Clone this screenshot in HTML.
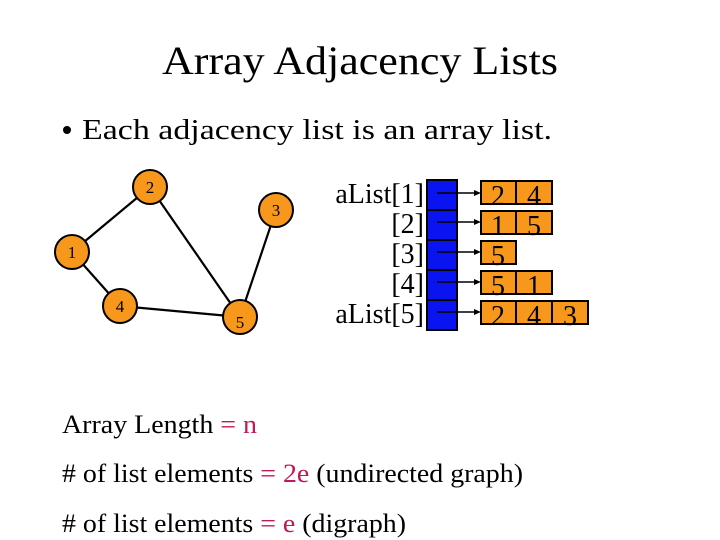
<!DOCTYPE html>
<html><head><style>body{margin:0;background:#fff}svg{display:block}</style></head>
<body>
<svg width="720" height="540" viewBox="0 0 720 540" xmlns="http://www.w3.org/2000/svg" font-family="Liberation Serif, serif">
<text x="162" y="74" font-size="40" textLength="396" lengthAdjust="spacingAndGlyphs">Array Adjacency Lists</text>
<circle cx="67" cy="130" r="4" fill="#000"/>
<text x="82" y="139" font-size="28" textLength="470" lengthAdjust="spacingAndGlyphs">Each adjacency list is an array list.</text>
<g stroke="#000" stroke-width="2.2">
<line x1="72" y1="252" x2="150" y2="187"/>
<line x1="150" y1="187" x2="240" y2="317"/>
<line x1="72" y1="252" x2="120" y2="306"/>
<line x1="120" y1="306" x2="240" y2="317"/>
<line x1="276" y1="210" x2="240" y2="317"/>
</g>
<g fill="#f7981d" stroke="#000" stroke-width="2">
<circle cx="150" cy="187" r="17"/><circle cx="276" cy="210" r="17"/><circle cx="72" cy="252" r="17"/><circle cx="120" cy="306" r="17"/><circle cx="240" cy="317" r="17"/>
</g>
<g font-size="17" text-anchor="middle">
<text x="150" y="193">2</text><text x="276" y="216">3</text><text x="72" y="258">1</text><text x="120" y="312">4</text><text x="240" y="328">5</text>
</g>
<g font-size="28" text-anchor="end">
<text x="424" y="203">aList[1]</text><text x="424" y="233">[2]</text><text x="424" y="263">[3]</text><text x="424" y="293">[4]</text><text x="424" y="323">aList[5]</text>
</g>
<g fill="#0a14f0" stroke="#000" stroke-width="2">
<rect x="427" y="180" width="30" height="30"/><rect x="427" y="210" width="30" height="30"/><rect x="427" y="240" width="30" height="30"/><rect x="427" y="270" width="30" height="30"/><rect x="427" y="300" width="30" height="30"/>
</g>
<g stroke="#000" stroke-width="1.5">
<line x1="437" y1="193" x2="476" y2="193"/><line x1="437" y1="222" x2="476" y2="222"/><line x1="437" y1="252" x2="476" y2="252"/><line x1="437" y1="282" x2="476" y2="282"/><line x1="437" y1="312" x2="476" y2="312"/>
</g>
<g fill="#000">
<polygon points="481,193 474,190 474,196"/><polygon points="481,222 474,219 474,225"/><polygon points="481,252 474,249 474,255"/><polygon points="481,282 474,279 474,285"/><polygon points="481,312 474,309 474,315"/>
</g>
<g fill="#f7981d" stroke="#000" stroke-width="2">
<rect x="481" y="181" width="35" height="23"/><rect x="516" y="181" width="36" height="23"/>
<rect x="481" y="211" width="35" height="23"/><rect x="516" y="211" width="36" height="23"/>
<rect x="481" y="241" width="35" height="23"/>
<rect x="481" y="271" width="35" height="23"/><rect x="516" y="271" width="36" height="23"/>
<rect x="481" y="301" width="35" height="23"/><rect x="516" y="301" width="36" height="23"/><rect x="552" y="301" width="36" height="23"/>
</g>
<g font-size="28" text-anchor="middle">
<text x="498" y="205">2</text><text x="534" y="205">4</text>
<text x="498" y="235">1</text><text x="534" y="235">5</text>
<text x="498" y="265">5</text>
<text x="498" y="295">5</text><text x="534" y="295">1</text>
<text x="498" y="325">2</text><text x="534" y="325">4</text><text x="570" y="325">3</text>
</g>
<g font-size="26">
<text x="62" y="433" textLength="195" lengthAdjust="spacingAndGlyphs">Array Length <tspan fill="#c0185a">= n</tspan></text>
<text x="62" y="482" textLength="461" lengthAdjust="spacingAndGlyphs"># of list elements <tspan fill="#c0185a">= 2e</tspan> (undirected graph)</text>
<text x="62" y="532" textLength="344" lengthAdjust="spacingAndGlyphs"># of list elements <tspan fill="#c0185a">= e</tspan> (digraph)</text>
</g>
</svg>
</body></html>
